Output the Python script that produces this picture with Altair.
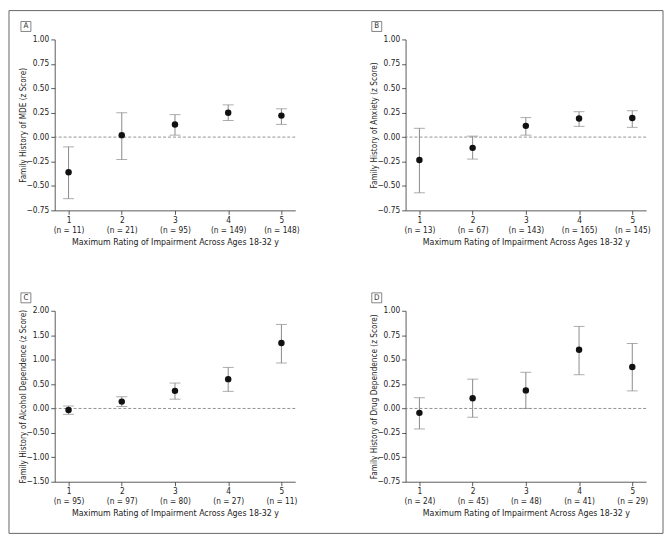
import altair as alt
import pandas as pd

cats = [1, 2, 3, 4, 5]
xtitle = "Maximum Rating of Impairment Across Ages 18-32 y"

# Panel A: MDE
a_n = [11, 21, 95, 149, 148]
a_mean = [-0.36, 0.02, 0.13, 0.25, 0.22]
a_lo = [-0.63, -0.23, 0.02, 0.17, 0.13]
a_hi = [-0.10, 0.25, 0.23, 0.33, 0.29]

# Panel B: Anxiety
b_n = [13, 67, 143, 165, 145]
b_mean = [-0.235, -0.11, 0.115, 0.19, 0.195]
b_lo = [-0.57, -0.225, 0.02, 0.11, 0.10]
b_hi = [0.09, 0.01, 0.20, 0.26, 0.27]

# Panel C: Alcohol dependence
c_n = [95, 97, 80, 27, 11]
c_mean = [-0.03, 0.14, 0.36, 0.60, 1.34]
c_lo = [-0.12, 0.04, 0.19, 0.35, 0.93]
c_hi = [0.05, 0.24, 0.52, 0.84, 1.72]

# Panel D: Drug dependence
d_n = [24, 45, 48, 41, 29]
d_mean = [-0.045, 0.105, 0.185, 0.60, 0.425]
d_lo = [-0.21, -0.09, 0.0, 0.345, 0.18]
d_hi = [0.11, 0.30, 0.37, 0.84, 0.665]

ticks_small = [-0.75, -0.5, -0.25, 0.0, 0.25, 0.5, 0.75, 1.0]
ticks_large = [-1.5, -1.0, -0.5, 0.0, 0.5, 1.0, 1.5, 2.0]

FONT = "DejaVu Sans Condensed, Liberation Sans"
FS = 8.3
GRAY = "#8a8a8a"
AXIS = "#333333"
W, H = 242, 172


def panel(letter, ytitle, ns, means, los, his, ydom, yticks, ylabel_expr=None, frame=False):
    df = pd.DataFrame({"x": cats, "mean": means, "lo": los, "hi": his})
    nlist = "[" + ",".join("'%d'" % n for n in ns) + "]"
    xlab = "[format(datum.value,'d'), '(n = ' + %s[datum.value-1] + ')']" % nlist
    xs = alt.Scale(domain=[0.74, 5.26], nice=False, zero=False)
    ys = alt.Scale(domain=ydom, nice=False, zero=False)
    yaxis_kw = dict(values=yticks, format=".2f", grid=False, tickSize=4, title=ytitle,
                    titleX=-31, titleY=H / 2, titleBaseline="middle", titleAlign="center",
                    titleFontSize=8.2,
                    labelOverlap=False, labelBound=False, labelPadding=2)
    if ylabel_expr:
        yaxis_kw["labelExpr"] = ylabel_expr
    xaxis = alt.Axis(values=cats, labelExpr=xlab, grid=False, tickSize=4,
                     labelOverlap=False, labelBound=False, labelPadding=1,
                     title=xtitle, titlePadding=4, labelLineHeight=10)
    yaxis = alt.Axis(**yaxis_kw)

    def X(f):
        return alt.X(f, type="quantitative", scale=xs, axis=xaxis)

    def Y(f):
        return alt.Y(f, type="quantitative", scale=ys, axis=yaxis)

    base = alt.Chart(df)
    bars = base.mark_rule(color=GRAY, strokeWidth=1).encode(x=X("x"), y=Y("lo"), y2="hi:Q")
    zero = alt.Chart(pd.DataFrame({"z": [0.0]})).mark_rule(
        color="#777777", strokeDash=[3, 2], strokeWidth=0.8).encode(y=Y("z"))
    cap_lo = base.mark_tick(orient="horizontal", size=11, thickness=1, color=GRAY).encode(
        x=X("x"), y=Y("lo"))
    cap_hi = base.mark_tick(orient="horizontal", size=11, thickness=1, color=GRAY).encode(
        x=X("x"), y=Y("hi"))
    pts = base.mark_circle(size=42, color="#111111", opacity=1).encode(x=X("x"), y=Y("mean"))
    one = alt.Chart(pd.DataFrame({"k": [letter]}))
    box = one.mark_rect(filled=False, stroke="#666666", strokeWidth=0.8).encode(
        x=alt.value(-34), x2=alt.value(-24), y=alt.value(-18), y2=alt.value(-8))
    lab = one.mark_text(font=FONT, fontSize=8, color="#333333", baseline="middle",
                        align="center").encode(x=alt.value(-29), y=alt.value(-13), text="k:N")
    layers = [bars, zero, cap_lo, cap_hi, pts, box, lab]
    if frame:
        fr = one.mark_rect(filled=False, stroke="#666666", strokeWidth=1).encode(
            x=alt.value(-46), x2=alt.value(612), y=alt.value(-29), y2=alt.value(497))
        layers.append(fr)
    return alt.layer(*layers).properties(width=W, height=H)


pa = panel("A", "Family History of MDE (z Score)", a_n, a_mean, a_lo, a_hi,
           [-0.75, 1.0], ticks_small, frame=True)
pb = panel("B", "Family History of Anxiety (z Score)", b_n, b_mean, b_lo, b_hi,
           [-0.75, 1.0], ticks_small)
pc = panel("C", "Family History of Alcohol Dependence (z Score)", c_n, c_mean, c_lo, c_hi,
           [-1.5, 2.0], ticks_large)
pd_ = panel("D", "Family History of Drug Dependence (z Score)", d_n, d_mean, d_lo, d_hi,
            [-0.75, 1.0], ticks_small,
            ylabel_expr="datum.value == -0.5 ? '\u22120.05' : format(datum.value, '.2f')")

chart = alt.concat(pa, pb, pc, pd_, columns=2,
                   spacing=alt.RowColnumber(row=101, column=111),
                   bounds="flush").properties(padding=0, background="white").configure_view(
    stroke=None).configure_axis(
    labelFont=FONT, titleFont=FONT, labelFontSize=FS, titleFontSize=FS + 0.5,
    titleFontWeight="normal", labelColor="#222222", titleColor="#222222",
    domainColor=AXIS, tickColor=AXIS, domainWidth=0.8, tickWidth=0.8
)

chart.save("out.html", embed_options={"renderer": "svg", "actions": False})
